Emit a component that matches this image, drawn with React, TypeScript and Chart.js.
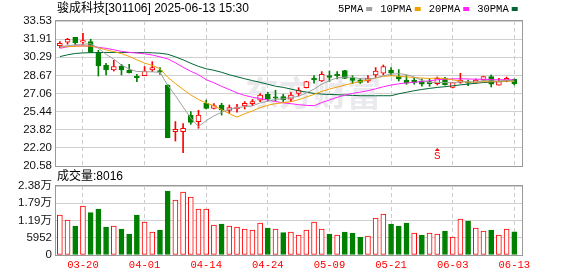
import React, { useEffect, useRef } from 'react';
import { Chart, registerables } from 'chart.js';

Chart.register(...registerables);

const W = 578;
const H = 276;
const RED = '#ff0000';
const GREEN = '#008000';
const SANS = '"Liberation Sans", "Noto Sans CJK SC", sans-serif';
const MONO = '"Liberation Mono", "Noto Sans CJK SC", monospace';

const stockName = '骏成科技[301106]';
const stamp = '2025-06-13 15:30';

const dates = [
  '03-17', '03-18', '03-19', '03-20', '03-21', '03-24', '03-25', '03-26', '03-27', '03-28',
  '03-31', '04-01', '04-02', '04-03', '04-07', '04-08', '04-09', '04-10', '04-11', '04-14',
  '04-15', '04-16', '04-17', '04-18', '04-21', '04-22', '04-23', '04-24', '04-25', '04-28',
  '04-29', '04-30', '05-06', '05-07', '05-08', '05-09', '05-12', '05-13', '05-14', '05-15',
  '05-16', '05-19', '05-20', '05-21', '05-22', '05-23', '05-26', '05-27', '05-28', '05-29',
  '05-30', '06-03', '06-04', '06-05', '06-06', '06-09', '06-10', '06-11', '06-12', '06-13',
];
const xTickIdx = [3, 11, 19, 27, 35, 43, 51, 59];

const opens = [
  31.33, 31.65, 32.07, 31.63, 31.69, 30.71, 29.57, 29.15, 29.51, 29.13,
  28.50, 28.65, 29.15, 29.10, 27.81, 23.65, 23.65, 25.13, 24.55, 26.18,
  25.73, 26.03, 25.55, 25.70, 25.94, 26.15, 26.45, 26.98, 26.75, 26.78,
  26.54, 27.07, 27.58, 28.36, 28.17, 28.65, 28.71, 29.10, 28.41, 28.26,
  28.17, 28.71, 28.86, 29.15, 28.56, 28.26, 28.26, 28.17, 28.12, 27.94,
  28.43, 27.60, 28.05, 28.10, 28.05, 28.26, 28.56, 27.81, 28.17, 28.32,
];
const highs = [
  31.69, 31.98, 32.07, 32.43, 31.90, 30.91, 29.75, 30.02, 29.66, 29.66,
  28.77, 29.46, 29.90, 29.37, 27.85, 24.55, 24.37, 25.44, 25.55, 26.47,
  26.15, 26.18, 26.03, 26.09, 26.33, 26.51, 27.05, 27.16, 27.34, 26.98,
  27.16, 27.58, 28.15, 28.65, 29.01, 29.06, 29.01, 29.12, 28.65, 28.41,
  28.65, 29.37, 29.60, 29.37, 29.19, 28.65, 28.41, 28.36, 28.36, 28.53,
  28.50, 28.05, 28.86, 28.26, 28.36, 28.60, 28.71, 28.41, 28.53, 28.36,
];
const lows = [
  31.15, 31.45, 31.39, 31.39, 30.73, 28.62, 28.71, 29.06, 28.71, 28.89,
  28.12, 28.65, 29.01, 28.77, 23.11, 22.81, 21.78, 24.30, 23.95, 25.67,
  25.67, 25.13, 25.29, 25.38, 25.67, 25.97, 26.33, 26.39, 26.39, 26.33,
  26.33, 26.87, 27.55, 27.97, 28.12, 28.12, 28.36, 28.38, 27.95, 27.95,
  28.05, 28.48, 28.71, 28.65, 28.17, 27.88, 27.88, 27.70, 27.70, 27.81,
  27.80, 27.55, 27.97, 27.76, 27.97, 28.20, 27.64, 27.81, 28.10, 27.81,
];
const closes = [
  31.54, 31.90, 31.57, 31.78, 30.73, 29.51, 29.15, 29.46, 29.15, 28.89,
  28.46, 29.06, 29.37, 28.95, 23.11, 23.86, 23.95, 24.48, 25.13, 25.73,
  25.97, 25.58, 25.80, 25.85, 26.18, 26.33, 26.92, 26.54, 26.63, 26.51,
  26.92, 27.37, 28.12, 28.27, 28.77, 28.48, 28.65, 28.41, 28.23, 28.05,
  28.41, 29.06, 29.46, 28.86, 28.35, 27.97, 28.05, 27.88, 27.94, 28.41,
  27.85, 28.02, 28.26, 27.97, 28.26, 28.56, 27.88, 28.12, 28.41, 27.94,
];
const volumes = [
  13800, 12080, 10000, 16900, 14600, 15870, 9660, 10000, 8970, 7250,
  13800, 11390, 7940, 8630, 22080, 18980, 21740, 20010, 15870, 15870,
  10350, 10700, 10000, 9660, 8970, 8630, 11040, 9320, 8970, 7700,
  7940, 6900, 8630, 11390, 8970, 7250, 6900, 7940, 7590, 6210,
  6560, 12770, 14150, 10700, 10000, 11040, 7590, 6900, 7590, 7250,
  8280, 6210, 12420, 11730, 9320, 8280, 8630, 6900, 8970, 8016,
];

// moving-average values before a full window of visible closes exists
const ma5Head = [31.25, 31.32, 31.40, 31.45];
const ma10Head = [31.21, 31.24, 31.27, 31.30, 31.30, 31.14, 30.95, 30.80, 30.62];
const ma20Head = [
  31.09, 31.23, 31.30, 31.30, 31.30, 31.18, 31.09, 30.96, 30.82, 30.73,
  30.67, 30.60, 30.49, 30.33, 30.15, 29.80, 29.40, 29.04, 28.73,
];
const ma30Head = [
  30.35, 30.51, 30.63, 30.68, 30.70, 30.71, 30.72, 30.72, 30.72, 30.71,
  30.71, 30.70, 30.69, 30.65, 30.56, 30.33, 30.06, 29.75, 29.48, 29.26,
  29.13, 28.95, 28.73, 28.55, 28.37, 28.21, 28.05, 27.88, 27.70,
];
const maNames = ['5PMA', '10PMA', '20PMA', '30PMA'];
const maPeriods = [5, 10, 20, 30];
const maHeads = [ma5Head, ma10Head, ma20Head, ma30Head];
const maColors = ['#a0a0a0', '#f0a000', '#ff22ff', '#006633'];

const priceTicks = [20.58, 22.20, 23.82, 25.44, 27.06, 28.67, 30.29, 31.91, 33.53];
const priceTickLabels = ['20.58', '22.20', '23.82', '25.44', '27.06', '28.67', '30.29', '31.91', '33.53'];
const volTicks = [0, 5952, 11905, 17857, 23810];
const volTickLabels = ['0', '5952', '1.19万', '1.79万', '2.38万'];

const signalIdx = [49];
const signalText = ['S'];

function movingAvg(period: number, head: number[]) {
  return closes.map((_, i) => {
    if (i < period - 1) return head[i];
    let s = 0;
    for (let k = i - period + 1; k <= i; k++) s += closes[k];
    return s / period;
  });
}

function xScale(showLabels: boolean) {
  return {
    type: 'linear',
    min: -0.5,
    max: 60,
    offset: false,
    afterBuildTicks: (s: any) => {
      s.ticks = xTickIdx.map((v) => ({ value: v }));
    },
    afterFit: (s: any) => {
      s.height = showLabels ? 21 : 0;
    },
    ticks: {
      display: showLabels,
      autoSkip: false,
      maxRotation: 0,
      padding: 4,
      color: RED,
      font: { family: MONO, size: 10.5 },
      callback: (v: number) => dates[v],
    },
    grid: { color: '#cccccc', drawTicks: false, lineWidth: 1, offset: false },
    border: { display: false, dash: [4, 3] },
  };
}

function yScale(min: number, max: number, ticks: number[], labels: string[]) {
  return {
    type: 'linear',
    min,
    max,
    afterBuildTicks: (s: any) => {
      s.ticks = ticks.map((v) => ({ value: v }));
    },
    afterFit: (s: any) => {
      s.width = 56;
    },
    ticks: {
      autoSkip: false,
      padding: 4,
      color: '#111',
      font: { family: SANS, size: 11.5 },
      callback: (_v: number, i: number) => labels[i],
    },
    grid: { color: '#d0d0d0', drawTicks: false, lineWidth: 1 },
    border: { display: false },
  };
}

function drawFrame(chart: any) {
  const { ctx, chartArea: a } = chart;
  ctx.save();
  ctx.strokeStyle = '#999';
  ctx.lineWidth = 1;
  ctx.strokeRect(Math.round(a.left) - 0.5, Math.round(a.top) - 0.5, Math.round(a.right - a.left) + 1, Math.round(a.bottom - a.top) + 1);
  ctx.restore();
}

const pricePlugin = {
  id: 'priceDecor',
  beforeDatasetsDraw(chart: any) {
    const { ctx } = chart;
    ctx.save();
    ctx.font = `bold 34px "Noto Sans CJK SC"`;
    ctx.fillStyle = '#e9e9ee';
    ctx.textBaseline = 'middle';
    ctx.fillText('东方财富', 245, 93);
    ctx.restore();
  },
  afterDraw(chart: any) {
    const { ctx, chartArea: a, scales } = chart;
    drawFrame(chart);
    ctx.save();
    ctx.fillStyle = '#000';
    ctx.textBaseline = 'middle';
    ctx.font = `12px ${SANS}`;
    ctx.fillText(`${stockName} ${stamp}`, 57, 9);
    ctx.font = `10.5px ${MONO}`;
    let x = 338;
    maNames.forEach((n, k) => {
      ctx.fillStyle = '#000';
      ctx.fillText(n, x, 9);
      x += ctx.measureText(n).width + 3;
      ctx.fillStyle = maColors[k];
      ctx.fillRect(x, 7, 6, 4);
      x += 6 + 8;
    });
    signalIdx.forEach((idx, k) => {
      const px = scales.x.getPixelForValue(idx);
      const base = a.bottom - 5;
      ctx.fillStyle = RED;
      ctx.beginPath();
      ctx.moveTo(px, base - 13);
      ctx.lineTo(px - 2.5, base - 10);
      ctx.lineTo(px + 2.5, base - 10);
      ctx.closePath();
      ctx.fill();
      ctx.font = `11px ${MONO}`;
      ctx.textAlign = 'center';
      ctx.textBaseline = 'middle';
      ctx.fillText(signalText[k], px, base - 4.5);
      ctx.textAlign = 'left';
    });
    ctx.restore();
  },
};

const volPlugin = {
  id: 'volDecor',
  afterDraw(chart: any) {
    const { ctx } = chart;
    drawFrame(chart);
    ctx.save();
    ctx.fillStyle = '#000';
    ctx.textBaseline = 'middle';
    ctx.font = `12px ${SANS}`;
    ctx.fillText(`成交量:${volumes[volumes.length - 1]}`, 57, 177);
    ctx.restore();
  },
};

export default function App() {
  const priceRef = useRef<HTMLCanvasElement>(null);
  const volRef = useRef<HTMLCanvasElement>(null);

  useEffect(() => {
    const up = closes.map((c, i) => c >= opens[i]);
    const candleColor = up.map((u) => (u ? RED : GREEN));
    const bodyFill = up.map((u) => (u ? '#ffffff' : GREEN));
    const volUp = closes.map((c, i) => (i === 0 ? c >= opens[0] : c >= closes[i - 1]));
    const volColor = volUp.map((u) => (u ? RED : GREEN));
    const volFill = volUp.map((u) => (u ? '#ffffff' : GREEN));

    const maSets = maPeriods.map((p, k) => {
      const vals = movingAvg(p, maHeads[k]);
      return {
        type: 'line',
        label: maNames[k],
        data: vals.map((v, i) => ({ x: i, y: v })),
        borderColor: maColors[k],
        borderWidth: 1,
        pointRadius: 0,
        tension: 0,
        fill: false,
        order: 1,
      };
    });

    const price = new Chart(priceRef.current as HTMLCanvasElement, {
      type: 'bar',
      data: {
        datasets: [
          ...maSets,
          {
            type: 'bar',
            label: 'wick',
            data: dates.map((_, i) => ({ x: i, y: [lows[i], highs[i]] })),
            backgroundColor: candleColor,
            borderWidth: 0,
            barThickness: 1,
            maxBarThickness: 1,
            grouped: false,
            order: 3,
          },
          {
            type: 'bar',
            label: 'body',
            data: dates.map((_, i) => ({ x: i, y: [opens[i], closes[i]] })),
            backgroundColor: bodyFill,
            borderColor: candleColor,
            borderWidth: 1,
            borderSkipped: false,
            barThickness: 5,
            maxBarThickness: 5,
            minBarLength: 1.5,
            grouped: false,
            order: 2,
          },
        ] as any,
      },
      options: {
        responsive: false,
        animation: false,
        events: [],
        layout: { padding: { left: 0, right: 56, top: 21, bottom: 110 } },
        plugins: { legend: { display: false }, tooltip: { enabled: false } },
        scales: {
          x: xScale(false) as any,
          y: yScale(20.58, 33.53, priceTicks, priceTickLabels) as any,
        },
      },
      plugins: [pricePlugin],
    });

    const vol = new Chart(volRef.current as HTMLCanvasElement, {
      type: 'bar',
      data: {
        datasets: [
          {
            label: 'volume',
            data: volumes.map((v, i) => ({ x: i, y: v })),
            backgroundColor: volFill,
            borderColor: volColor,
            borderWidth: 1,
            borderSkipped: false,
            barThickness: 5,
            maxBarThickness: 5,
            grouped: false,
          },
        ] as any,
      },
      options: {
        responsive: false,
        animation: false,
        events: [],
        layout: { padding: { left: 0, right: 56, top: 186, bottom: 0 } },
        plugins: { legend: { display: false }, tooltip: { enabled: false } },
        scales: {
          x: xScale(true) as any,
          y: yScale(0, 23810, volTicks, volTickLabels) as any,
        },
      },
      plugins: [volPlugin],
    });

    return () => {
      price.destroy();
      vol.destroy();
    };
  }, []);

  return (
    <div style={{ position: 'fixed', left: 0, top: 0, width: W, height: H, background: '#fff' }}>
      <canvas ref={priceRef} width={W} height={H} style={{ position: 'absolute', left: 0, top: 0, display: 'block' }} />
      <canvas ref={volRef} width={W} height={H} style={{ position: 'absolute', left: 0, top: 0, display: 'block' }} />
    </div>
  );
}
